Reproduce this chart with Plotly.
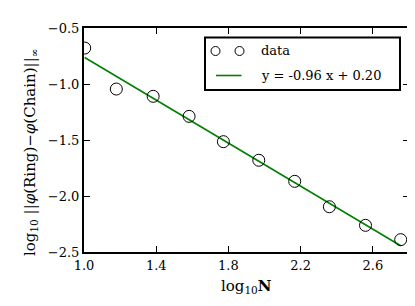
import plotly.graph_objects as go

# Data
log10_N = [1.004, 1.179, 1.383, 1.582, 1.772, 1.968, 2.167, 2.359, 2.559, 2.754]
log10_err = [-0.679, -1.045, -1.110, -1.289, -1.515, -1.681, -1.869, -2.096, -2.262, -2.390]
fit_slope = -0.96
fit_intercept = 0.20

x_ticks = [1.0, 1.4, 1.8, 2.2, 2.6]
x_tick_labels = ["1.0", "1.4", "1.8", "2.2", "2.6"]
y_ticks = [-0.5, -1.0, -1.5, -2.0, -2.5]
y_tick_labels = ["\u22120.5", "\u22121.0", "\u22121.5", "\u22122.0", "\u22122.5"]

FONT = "'DejaVu Serif', serif"

fit_x = [min(log10_N), max(log10_N)]
fit_y = [fit_slope * v + fit_intercept for v in fit_x]

fig = go.Figure()
fig.add_trace(go.Scatter(
    x=fit_x, y=fit_y, mode="lines",
    line=dict(color="#008000", width=1.6),
    showlegend=False, hoverinfo="skip",
))
fig.add_trace(go.Scatter(
    x=log10_N, y=log10_err, mode="markers",
    marker=dict(symbol="circle-open", size=12, color="black", line=dict(width=1, color="black")),
    showlegend=False,
))

axis_common = dict(
    showline=True, linecolor="black", linewidth=2, mirror="ticks",
    ticks="inside", ticklen=6, tickwidth=1, tickcolor="black",
    showgrid=False, zeroline=False,
    tickfont=dict(family=FONT, size=13, color="black"),
)
fig.update_xaxes(range=[1.0, 2.8], tickvals=x_ticks, ticktext=x_tick_labels, **axis_common)
fig.update_yaxes(range=[-2.5, -0.5], tickvals=y_ticks, ticktext=y_tick_labels, **axis_common)

# plot area in pixels: x 76..401, y 20..244
L, R, T, B = 76, 401, 20, 244
W, H = R - L, B - T
def px(xp):
    return (xp - L) / W
def py(yp):
    return (B - yp) / H

shapes = []
annotations = []
# legend box
shapes.append(dict(type="rect", xref="paper", yref="paper",
                   x0=px(197), x1=px(392), y0=py(82), y1=py(29.5),
                   line=dict(color="black", width=2), fillcolor="white", layer="above"))
# legend circles (two markers)
for cx in (207.5, 231.5):
    shapes.append(dict(type="circle", xref="paper", yref="paper",
                       xsizemode="pixel", ysizemode="pixel",
                       xanchor=px(cx), yanchor=py(43),
                       x0=-4.5, x1=4.5, y0=-4.5, y1=4.5,
                       line=dict(color="black", width=1), layer="above"))
# legend line
shapes.append(dict(type="line", xref="paper", yref="paper",
                   x0=px(208), x1=px(233.5), y0=py(67.5), y1=py(67.5),
                   line=dict(color="#008000", width=1.6), layer="above"))
annotations.append(dict(text="data", xref="paper", yref="paper",
                        x=px(251), y=py(43), xanchor="left", yanchor="middle",
                        showarrow=False, font=dict(family=FONT, size=13, color="black")))
annotations.append(dict(text="y = -0.96 x + 0.20", xref="paper", yref="paper",
                        x=px(251), y=py(67.5), xanchor="left", yanchor="middle",
                        showarrow=False, font=dict(family=FONT, size=13, color="black")))
# axis titles
annotations.append(dict(text="log<sub>10</sub><b>N</b>", xref="paper", yref="paper",
                        x=px(238), y=py(278), xanchor="center", yanchor="middle",
                        showarrow=False, font=dict(family=FONT, size=15, color="black")))
annotations.append(dict(text="log<sub>10</sub> ||<i>φ</i>(Ring)−<i>φ</i>(Chain)||<sub>∞</sub>",
                        xref="paper", yref="paper",
                        x=px(22), y=py(145), xanchor="center", yanchor="middle", textangle=-90,
                        showarrow=False, font=dict(family=FONT, size=15, color="black")))

fig.update_layout(
    width=415, height=306,
    margin=dict(l=L, r=415 - R, t=T, b=306 - B),
    paper_bgcolor="white", plot_bgcolor="white",
    shapes=shapes, annotations=annotations,
    showlegend=False,
)

fig.write_html("out.html")
